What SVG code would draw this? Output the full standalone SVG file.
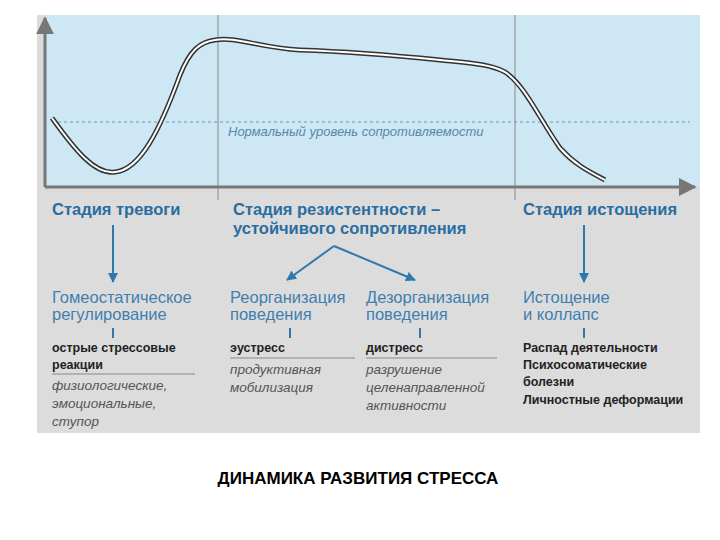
<svg xmlns="http://www.w3.org/2000/svg" width="720" height="540" viewBox="0 0 720 540">
<style>
.h{font-family:"Liberation Sans",Arial,sans-serif;font-size:16.5px;font-weight:bold;fill:#2a6da0}
.s{font-family:"Liberation Sans",Arial,sans-serif;font-size:16.5px;fill:#3f7fb0}
.b{font-family:"Liberation Sans",Arial,sans-serif;font-size:12.5px;font-weight:bold;fill:#222}
.i{font-family:"Liberation Sans",Arial,sans-serif;font-size:13.5px;font-style:italic;fill:#555}
.ar{stroke:#2f78b0;stroke-width:2;fill:none}
</style>
<defs>
<marker id="m" viewBox="0 0 10 10" refX="9" refY="5" markerWidth="5" markerHeight="5" orient="auto"><path d="M0,0L10,5L0,10z" fill="#2f78b0"/></marker>
<marker id="g" viewBox="0 0 10 10" refX="9" refY="5" markerWidth="6" markerHeight="6" orient="auto"><path d="M0,0L10,5L0,10z" fill="#777"/></marker>
</defs>
<rect width="720" height="540" fill="#fff"/>
<rect x="37" y="15" width="663" height="418" fill="#dcdcdc"/>
<rect x="45" y="15" width="655" height="172" fill="#cde8f4"/>
<g id="chart">
<line x1="52" y1="122" x2="690" y2="122" stroke="#6a9ab8" stroke-dasharray="3,3"/>
<text x="228" y="136" style="font-family:'Liberation Sans',Arial,sans-serif;font-size:13px;font-style:italic;fill:#5a86a6">Нормальный уровень сопротивляемости</text>
<line x1="218" y1="15" x2="218" y2="200" stroke="#888"/>
<line x1="515" y1="15" x2="515" y2="200" stroke="#888"/>
<path d="M52,118 C75,150 95,175 115,172 C140,170 160,130 180,75 C190,50 200,42 215,40 C235,36 260,48 300,50 C360,52 400,56 440,60 C470,63 490,64 505,72 C525,85 540,120 560,148 C575,165 590,172 605,180" fill="none" stroke="#333" stroke-width="5"/>
<path d="M52,118 C75,150 95,175 115,172 C140,170 160,130 180,75 C190,50 200,42 215,40 C235,36 260,48 300,50 C360,52 400,56 440,60 C470,63 490,64 505,72 C525,85 540,120 560,148 C575,165 590,172 605,180" fill="none" stroke="#fff" stroke-width="2"/>
<line x1="45" y1="187" x2="45" y2="18" stroke="#777" stroke-width="3" marker-end="url(#g)"/>
<line x1="45" y1="187" x2="695" y2="187" stroke="#777" stroke-width="3" marker-end="url(#g)"/>
</g>
<g id="n1"><text x="52" y="215" class="h">Стадия тревоги</text></g>
<g id="n2"><text x="233" y="215" class="h">Стадия резистентности –</text><text x="233" y="234" class="h">устойчивого сопротивления</text></g>
<g id="n3"><text x="523" y="215" class="h">Стадия истощения</text></g>
<g id="n4"><text x="52" y="303" class="s">Гомеостатическое</text><text x="52" y="320" class="s">регулирование</text>
<line x1="113" y1="328" x2="113" y2="338" stroke="#2f78b0" stroke-width="2"/>
<text x="52" y="352" class="b">острые стрессовые</text><text x="52" y="369" class="b">реакции</text>
<line x1="52" y1="374" x2="195" y2="374" stroke="#888"/>
<text x="52" y="390" class="i">физиологические,</text><text x="52" y="408" class="i">эмоциональные,</text><text x="52" y="426" class="i">ступор</text></g>
<g id="n5"><text x="230" y="303" class="s">Реорганизация</text><text x="230" y="320" class="s">поведения</text>
<line x1="290" y1="328" x2="290" y2="338" stroke="#2f78b0" stroke-width="2"/>
<text x="230" y="352" class="b">эустресс</text>
<line x1="230" y1="358" x2="355" y2="358" stroke="#888"/>
<text x="230" y="374" class="i">продуктивная</text><text x="230" y="392" class="i">мобилизация</text></g>
<g id="n6"><text x="366" y="303" class="s">Дезорганизация</text><text x="366" y="320" class="s">поведения</text>
<line x1="420" y1="328" x2="420" y2="338" stroke="#2f78b0" stroke-width="2"/>
<text x="366" y="352" class="b">дистресс</text>
<line x1="366" y1="358" x2="497" y2="358" stroke="#888"/>
<text x="366" y="374" class="i">разрушение</text><text x="366" y="392" class="i">целенаправленной</text><text x="366" y="410" class="i">активности</text></g>
<g id="n7"><text x="523" y="303" class="s">Истощение</text><text x="523" y="320" class="s">и коллапс</text>
<line x1="584" y1="328" x2="584" y2="338" stroke="#2f78b0" stroke-width="2"/>
<text x="523" y="352" class="b">Распад деятельности</text><text x="523" y="369" class="b">Психосоматические</text><text x="523" y="386" class="b">болезни</text><text x="523" y="404" class="b">Личностные деформации</text></g>
<g id="connectors">
<line x1="113" y1="225" x2="113" y2="282" class="ar" marker-end="url(#m)"/>
<line x1="584" y1="225" x2="584" y2="282" class="ar" marker-end="url(#m)"/>
<line x1="334" y1="246" x2="287" y2="280" class="ar" marker-end="url(#m)"/>
<line x1="334" y1="246" x2="415" y2="280" class="ar" marker-end="url(#m)"/>
</g>
<text x="358" y="484" text-anchor="middle" style="font-family:'Liberation Sans',Arial,sans-serif;font-size:17px;font-weight:bold;fill:#000">ДИНАМИКА РАЗВИТИЯ СТРЕССА</text>
</svg>
